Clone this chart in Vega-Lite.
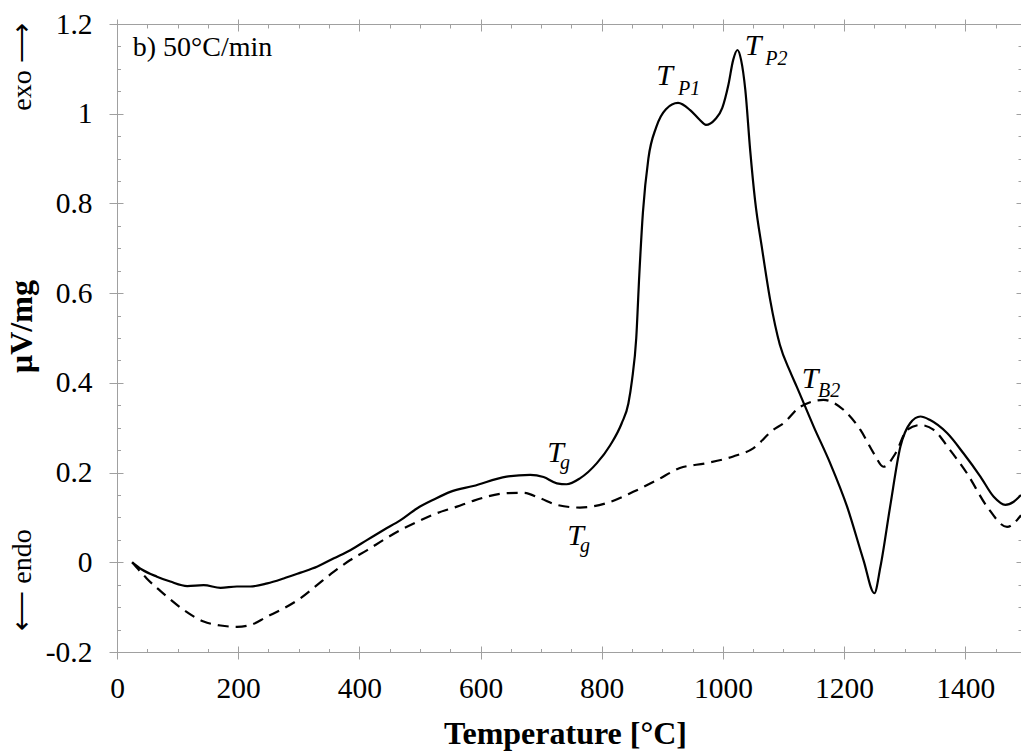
{
  "$schema": "https://vega.github.io/schema/vega-lite/v6.json",
  "width": 904,
  "height": 628,
  "autosize": {"type": "none"},
  "padding": {"left": 117, "top": 24, "right": 0, "bottom": 101},
  "background": "white",
  "config": {
    "view": {"stroke": "#a0a0a0", "strokeWidth": 1},
    "axis": {"domain": false, "grid": false, "tickColor": "#a0a0a0", "tickWidth": 1, "labelFont": "Liberation Serif", "titleFont": "Liberation Serif", "labelColor": "black", "titleColor": "black"}
  },
  "datasets": {
    "curves": [
      {"series": "solid", "T": 25, "V": 0.0},
      {"series": "solid", "T": 41, "V": -0.016},
      {"series": "solid", "T": 66, "V": -0.032},
      {"series": "solid", "T": 88, "V": -0.043},
      {"series": "solid", "T": 116, "V": -0.053},
      {"series": "solid", "T": 143, "V": -0.051},
      {"series": "solid", "T": 171, "V": -0.057},
      {"series": "solid", "T": 198, "V": -0.054},
      {"series": "solid", "T": 220, "V": -0.054},
      {"series": "solid", "T": 248, "V": -0.047},
      {"series": "solid", "T": 275, "V": -0.036},
      {"series": "solid", "T": 303, "V": -0.023},
      {"series": "solid", "T": 330, "V": -0.010},
      {"series": "solid", "T": 358, "V": 0.009},
      {"series": "solid", "T": 385, "V": 0.027},
      {"series": "solid", "T": 413, "V": 0.050},
      {"series": "solid", "T": 440, "V": 0.072},
      {"series": "solid", "T": 468, "V": 0.094},
      {"series": "solid", "T": 495, "V": 0.120},
      {"series": "solid", "T": 523, "V": 0.140},
      {"series": "solid", "T": 550, "V": 0.157},
      {"series": "solid", "T": 588, "V": 0.170},
      {"series": "solid", "T": 643, "V": 0.191},
      {"series": "solid", "T": 682, "V": 0.195},
      {"series": "solid", "T": 704, "V": 0.190},
      {"series": "solid", "T": 726, "V": 0.176},
      {"series": "solid", "T": 742, "V": 0.174},
      {"series": "solid", "T": 764, "V": 0.187},
      {"series": "solid", "T": 792, "V": 0.221},
      {"series": "solid", "T": 814, "V": 0.261},
      {"series": "solid", "T": 833, "V": 0.310},
      {"series": "solid", "T": 844, "V": 0.354},
      {"series": "solid", "T": 850, "V": 0.406},
      {"series": "solid", "T": 857, "V": 0.500},
      {"series": "solid", "T": 862, "V": 0.640},
      {"series": "solid", "T": 868, "V": 0.780},
      {"series": "solid", "T": 877, "V": 0.900},
      {"series": "solid", "T": 890, "V": 0.970},
      {"series": "solid", "T": 906, "V": 1.010},
      {"series": "solid", "T": 926, "V": 1.024},
      {"series": "solid", "T": 946, "V": 1.008},
      {"series": "solid", "T": 962, "V": 0.986},
      {"series": "solid", "T": 972, "V": 0.975},
      {"series": "solid", "T": 987, "V": 0.987},
      {"series": "solid", "T": 999, "V": 1.013},
      {"series": "solid", "T": 1009, "V": 1.064},
      {"series": "solid", "T": 1017, "V": 1.120},
      {"series": "solid", "T": 1024, "V": 1.142},
      {"series": "solid", "T": 1030, "V": 1.120},
      {"series": "solid", "T": 1037, "V": 1.053},
      {"series": "solid", "T": 1045, "V": 0.919},
      {"series": "solid", "T": 1053, "V": 0.808},
      {"series": "solid", "T": 1065, "V": 0.696},
      {"series": "solid", "T": 1078, "V": 0.585},
      {"series": "solid", "T": 1094, "V": 0.485},
      {"series": "solid", "T": 1111, "V": 0.425},
      {"series": "solid", "T": 1122, "V": 0.391},
      {"series": "solid", "T": 1150, "V": 0.302},
      {"series": "solid", "T": 1177, "V": 0.221},
      {"series": "solid", "T": 1205, "V": 0.124},
      {"series": "solid", "T": 1232, "V": 0.005},
      {"series": "solid", "T": 1250, "V": -0.069},
      {"series": "solid", "T": 1260, "V": -0.010},
      {"series": "solid", "T": 1276, "V": 0.124},
      {"series": "solid", "T": 1293, "V": 0.258},
      {"series": "solid", "T": 1309, "V": 0.310},
      {"series": "solid", "T": 1326, "V": 0.325},
      {"series": "solid", "T": 1342, "V": 0.317},
      {"series": "solid", "T": 1370, "V": 0.288},
      {"series": "solid", "T": 1397, "V": 0.243},
      {"series": "solid", "T": 1425, "V": 0.191},
      {"series": "solid", "T": 1447, "V": 0.146},
      {"series": "solid", "T": 1466, "V": 0.128},
      {"series": "solid", "T": 1480, "V": 0.135},
      {"series": "solid", "T": 1492, "V": 0.150},
      {"series": "dashed", "T": 25, "V": 0.0},
      {"series": "dashed", "T": 49, "V": -0.036},
      {"series": "dashed", "T": 83, "V": -0.077},
      {"series": "dashed", "T": 110, "V": -0.106},
      {"series": "dashed", "T": 143, "V": -0.132},
      {"series": "dashed", "T": 171, "V": -0.141},
      {"series": "dashed", "T": 198, "V": -0.144},
      {"series": "dashed", "T": 220, "V": -0.140},
      {"series": "dashed", "T": 248, "V": -0.121},
      {"series": "dashed", "T": 275, "V": -0.103},
      {"series": "dashed", "T": 303, "V": -0.080},
      {"series": "dashed", "T": 330, "V": -0.051},
      {"series": "dashed", "T": 358, "V": -0.021},
      {"series": "dashed", "T": 385, "V": 0.005},
      {"series": "dashed", "T": 413, "V": 0.027},
      {"series": "dashed", "T": 440, "V": 0.050},
      {"series": "dashed", "T": 468, "V": 0.072},
      {"series": "dashed", "T": 495, "V": 0.090},
      {"series": "dashed", "T": 523, "V": 0.107},
      {"series": "dashed", "T": 561, "V": 0.124},
      {"series": "dashed", "T": 588, "V": 0.137},
      {"series": "dashed", "T": 643, "V": 0.154},
      {"series": "dashed", "T": 671, "V": 0.155},
      {"series": "dashed", "T": 698, "V": 0.143},
      {"series": "dashed", "T": 726, "V": 0.128},
      {"series": "dashed", "T": 764, "V": 0.122},
      {"series": "dashed", "T": 808, "V": 0.132},
      {"series": "dashed", "T": 852, "V": 0.157},
      {"series": "dashed", "T": 891, "V": 0.183},
      {"series": "dashed", "T": 929, "V": 0.210},
      {"series": "dashed", "T": 973, "V": 0.221},
      {"series": "dashed", "T": 1017, "V": 0.236},
      {"series": "dashed", "T": 1050, "V": 0.254},
      {"series": "dashed", "T": 1083, "V": 0.295},
      {"series": "dashed", "T": 1100, "V": 0.310},
      {"series": "dashed", "T": 1128, "V": 0.347},
      {"series": "dashed", "T": 1166, "V": 0.362},
      {"series": "dashed", "T": 1199, "V": 0.340},
      {"series": "dashed", "T": 1227, "V": 0.295},
      {"series": "dashed", "T": 1249, "V": 0.243},
      {"series": "dashed", "T": 1265, "V": 0.213},
      {"series": "dashed", "T": 1285, "V": 0.243},
      {"series": "dashed", "T": 1304, "V": 0.295},
      {"series": "dashed", "T": 1326, "V": 0.306},
      {"series": "dashed", "T": 1348, "V": 0.295},
      {"series": "dashed", "T": 1375, "V": 0.250},
      {"series": "dashed", "T": 1403, "V": 0.198},
      {"series": "dashed", "T": 1436, "V": 0.124},
      {"series": "dashed", "T": 1469, "V": 0.079},
      {"series": "dashed", "T": 1492, "V": 0.105}
    ],
    "mainLabels": [
      {"label": "T", "T": 890, "V": 1.064},
      {"label": "T", "T": 1036, "V": 1.131},
      {"label": "T", "T": 710, "V": 0.2236},
      {"label": "T", "T": 743, "V": 0.0386},
      {"label": "T", "T": 1130, "V": 0.389}
    ],
    "subLabels": [
      {"label": "P1", "T": 926, "V": 1.042},
      {"label": "P2", "T": 1070, "V": 1.109},
      {"label": "g", "T": 731, "V": 0.208},
      {"label": "g", "T": 764, "V": 0.023},
      {"label": "B2", "T": 1157, "V": 0.368}
    ],
    "panel": [
      {"label": "b) 50°C/min", "T": 26, "V": 1.129}
    ],
    "side": [
      {"label": "exo ⟶", "T": -155, "V": 1.104},
      {"label": "⟵ endo", "T": -155, "V": -0.0395}
    ]
  },
  "layer": [
    {
      "data": {"name": "curves"},
      "transform": [{"filter": "datum.series == 'solid'"}],
      "mark": {"type": "line", "color": "black", "strokeWidth": 2.2, "interpolate": "monotone"},
      "encoding": {
        "x": {"field": "T", "type": "quantitative", "scale": {"domain": [0, 1492], "nice": false, "zero": false},
          "axis": {"orient": "bottom", "values": [0, 200, 400, 600, 800, 1000, 1200, 1400], "tickSize": 7, "labelFont": "Liberation Serif", "labelFontSize": 29.5, "labelPadding": 15, "labelExpr": "'' + datum.value", "labelFlush": false, "labelOverlap": false,
            "title": "Temperature [°C]", "titleFont": "Liberation Serif", "titleFontSize": 32, "titleFontWeight": "bold", "titleX": 448, "titleY": 81, "titleAlign": "center", "titleBaseline": "middle"}},
        "y": {"field": "V", "type": "quantitative", "scale": {"domain": [-0.2, 1.2], "nice": false, "zero": false},
          "axis": {"orient": "left", "values": [-0.2, 0, 0.2, 0.4, 0.6, 0.8, 1, 1.2], "tickSize": 8, "labelFont": "Liberation Serif", "labelFontSize": 29.5, "labelPadding": 17, "labelExpr": "'' + datum.value", "labelFlush": false, "labelOverlap": false,
            "title": "μV/mg", "titleFont": "Liberation Serif", "titleFontSize": 32, "titleFontWeight": "bold", "titleX": -96, "titleY": 302, "titleAngle": 270, "titleAlign": "center", "titleBaseline": "middle"}}
      }
    },
    {
      "data": {"name": "curves"},
      "transform": [{"filter": "datum.series == 'dashed'"}],
      "mark": {"type": "line", "color": "black", "strokeWidth": 2.2, "strokeDash": [11, 7], "interpolate": "monotone"},
      "encoding": {
        "x": {"field": "T", "type": "quantitative", "scale": {"domain": [0, 1492], "nice": false, "zero": false},
          "axis": {"orient": "bottom", "values": [0, 50, 100, 150, 200, 250, 300, 350, 400, 450, 500, 550, 600, 650, 700, 750, 800, 850, 900, 950, 1000, 1050, 1100, 1150, 1200, 1250, 1300, 1350, 1400, 1450], "tickSize": -3.5, "labels": false, "title": null}},
        "y": {"field": "V", "type": "quantitative", "scale": {"domain": [-0.2, 1.2], "nice": false, "zero": false},
          "axis": {"orient": "left", "values": [-0.2, -0.15, -0.1, -0.05, 0, 0.05, 0.1, 0.15, 0.2, 0.25, 0.3, 0.35, 0.4, 0.45, 0.5, 0.55, 0.6, 0.65, 0.7, 0.75, 0.8, 0.85, 0.9, 0.95, 1, 1.05, 1.1, 1.15, 1.2], "tickSize": -3.5, "labels": false, "title": null}}
      }
    },
    {
      "data": {"name": "mainLabels"},
      "mark": {"type": "text", "font": "Liberation Serif", "fontStyle": "italic", "fontSize": 30, "align": "left", "baseline": "alphabetic", "color": "black"},
      "encoding": {
        "text": {"field": "label"},
        "x": {"field": "T", "type": "quantitative", "scale": {"domain": [0, 1492], "nice": false, "zero": false},
          "axis": {"orient": "bottom", "values": [0, 200, 400, 600, 800, 1000, 1200, 1400], "tickSize": -6, "labels": false, "title": null}},
        "y": {"field": "V", "type": "quantitative", "scale": {"domain": [-0.2, 1.2], "nice": false, "zero": false},
          "axis": {"orient": "left", "values": [-0.2, 0, 0.2, 0.4, 0.6, 0.8, 1, 1.2], "tickSize": -6, "labels": false, "title": null}}
      }
    },
    {
      "data": {"name": "subLabels"},
      "mark": {"type": "text", "font": "Liberation Serif", "fontStyle": "italic", "fontSize": 20, "align": "left", "baseline": "alphabetic", "color": "black"},
      "encoding": {
        "text": {"field": "label"},
        "x": {"field": "T", "type": "quantitative", "scale": {"domain": [0, 1492], "nice": false, "zero": false},
          "axis": {"orient": "top", "values": [0, 50, 100, 150, 200, 250, 300, 350, 400, 450, 500, 550, 600, 650, 700, 750, 800, 850, 900, 950, 1000, 1050, 1100, 1150, 1200, 1250, 1300, 1350, 1400, 1450], "tickSize": -4, "labels": false, "title": null}},
        "y": {"field": "V", "type": "quantitative", "scale": {"domain": [-0.2, 1.2], "nice": false, "zero": false},
          "axis": {"orient": "right", "values": [-0.2, -0.15, -0.1, -0.05, 0, 0.05, 0.1, 0.15, 0.2, 0.25, 0.3, 0.35, 0.4, 0.45, 0.5, 0.55, 0.6, 0.65, 0.7, 0.75, 0.8, 0.85, 0.9, 0.95, 1, 1.05, 1.1, 1.15, 1.2], "tickSize": -3, "labels": false, "title": null}}
      }
    },
    {
      "data": {"name": "panel"},
      "mark": {"type": "text", "font": "Liberation Serif", "fontSize": 28, "align": "left", "baseline": "alphabetic", "color": "black"},
      "encoding": {
        "text": {"field": "label"},
        "x": {"field": "T", "type": "quantitative", "scale": {"domain": [0, 1492], "nice": false, "zero": false},
          "axis": {"orient": "top", "values": [0, 200, 400, 600, 800, 1000, 1200, 1400], "tickSize": -7, "labels": false, "title": null}},
        "y": {"field": "V", "type": "quantitative", "scale": {"domain": [-0.2, 1.2], "nice": false, "zero": false},
          "axis": {"orient": "right", "values": [-0.2, 0, 0.2, 0.4, 0.6, 0.8, 1, 1.2], "tickSize": -5, "labels": false, "title": null}}
      }
    },
    {
      "data": {"name": "side"},
      "mark": {"type": "text", "font": "Liberation Serif", "fontSize": 28, "align": "center", "baseline": "middle", "angle": 270, "color": "black"},
      "encoding": {
        "text": {"field": "label"},
        "x": {"field": "T", "type": "quantitative", "scale": {"domain": [0, 1492], "nice": false, "zero": false},
          "axis": {"orient": "top", "values": [0, 200, 400, 600, 800, 1000, 1200, 1400], "tickSize": 5, "labels": false, "title": null}},
        "y": {"field": "V", "type": "quantitative", "scale": {"domain": [-0.2, 1.2], "nice": false, "zero": false}, "axis": null}
      }
    }
  ],
  "resolve": {"axis": {"x": "independent", "y": "independent"}}
}
